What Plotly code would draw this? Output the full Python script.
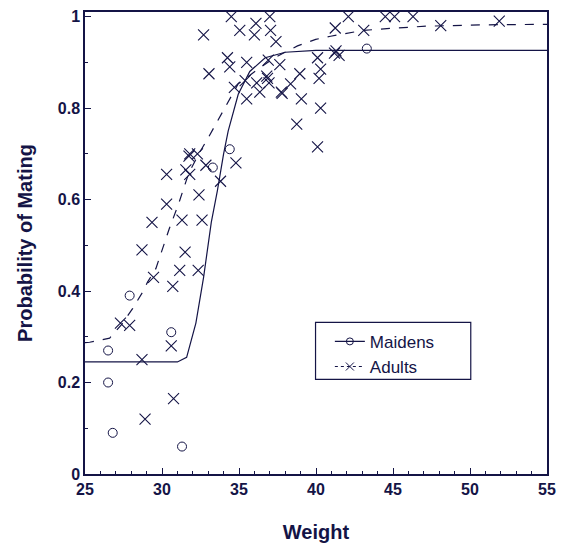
import plotly.graph_objects as go

# Maidens observations
maiden_w = [26.5, 26.5, 26.8, 27.9, 30.6, 31.3, 33.3, 34.4, 43.3]
maiden_p = [0.27, 0.20, 0.09, 0.39, 0.31, 0.06, 0.67, 0.71, 0.93]

# Adults observations
adult_w = [27.3, 27.9, 28.7, 28.9, 30.6, 30.75, 28.7, 29.45, 30.7, 31.15,
           31.5, 32.35, 29.35, 30.3, 31.3, 32.6, 32.4, 30.3, 31.55, 31.8,
           31.75, 31.8, 32.3, 32.85, 33.8, 34.8, 32.7, 33.05, 34.25, 34.4,
           34.5, 34.7, 35.05, 35.5, 35.4, 35.5, 36.0, 36.1, 36.15, 36.35,
           36.8, 36.85, 36.9, 37.0, 37.05, 36.95, 37.4, 37.65, 37.75, 37.8,
           38.35, 38.75, 38.95, 39.05, 40.1, 40.3, 40.2, 40.3, 40.1, 41.25,
           41.3, 41.2, 41.5, 42.1, 43.1, 44.5, 45.1, 46.3, 48.1, 51.9]
adult_p = [0.33, 0.325, 0.25, 0.12, 0.28, 0.165, 0.49, 0.43, 0.41, 0.445,
           0.485, 0.445, 0.55, 0.59, 0.555, 0.555, 0.61, 0.655, 0.665, 0.655,
           0.695, 0.70, 0.70, 0.675, 0.64, 0.68, 0.96, 0.875, 0.91, 0.89,
           1.0, 0.845, 0.97, 0.90, 0.86, 0.82, 0.96, 0.985, 0.855, 0.835,
           0.87, 0.865, 0.905, 1.0, 0.97, 0.855, 0.945, 0.895, 0.835, 0.832,
           0.853, 0.765, 0.875, 0.82, 0.91, 0.885, 0.865, 0.80, 0.715, 0.975,
           0.925, 0.92, 0.915, 1.0, 0.97, 1.0, 1.0, 1.0, 0.98, 0.99]

# Fitted curves
maiden_fit_w = [25.0, 31.0, 31.6, 32.2, 32.7, 33.2, 33.6, 34.0, 34.3, 34.95,
                35.7, 36.7, 38.0, 40.0, 55.0]
maiden_fit_p = [0.245, 0.245, 0.255, 0.33, 0.43, 0.55, 0.62, 0.70, 0.75, 0.83,
                0.88, 0.91, 0.922, 0.926, 0.926]

adult_fit_w = [25.0, 25.3, 26.6, 27.36, 28.1, 28.75, 29.07, 29.6, 30.46, 31.1,
               31.74, 32.39, 33.0, 33.88, 34.95, 36.24, 37.3, 38.8, 39.98, 40.95,
               43.1, 45.23, 47.16, 51.0, 55.0]
adult_fit_p = [0.287, 0.288, 0.297, 0.326, 0.362, 0.398, 0.42, 0.449, 0.535, 0.593,
               0.658, 0.70, 0.735, 0.788, 0.853, 0.885, 0.91, 0.936, 0.95, 0.957,
               0.97, 0.975, 0.979, 0.982, 0.983]

C = "#141446"
FONT = "Liberation Sans"

fig = go.Figure()
fig.add_trace(go.Scatter(x=maiden_fit_w, y=maiden_fit_p, mode="lines",
                         line=dict(color=C, width=1.2), showlegend=False))
fig.add_trace(go.Scatter(x=adult_fit_w, y=adult_fit_p, mode="lines",
                         line=dict(color=C, width=1.2, dash="dash"), showlegend=False))
fig.add_trace(go.Scatter(x=maiden_w, y=maiden_p, mode="markers",
                         marker=dict(symbol="circle-open", size=9, color=C,
                                     line=dict(width=1, color=C)),
                         showlegend=False))
fig.add_trace(go.Scatter(x=adult_w, y=adult_p, mode="markers",
                         marker=dict(symbol="x-thin-open", size=11, color=C,
                                     line=dict(width=1.1, color=C)),
                         showlegend=False))
# legend entries
fig.add_trace(go.Scatter(x=[None], y=[None], mode="lines+markers", name="Maidens",
                         line=dict(color=C, width=1.2),
                         marker=dict(symbol="circle-open", size=7, color=C)))
fig.add_trace(go.Scatter(x=[None], y=[None], mode="lines+markers", name="Adults",
                         line=dict(color=C, width=1.2, dash="dot"),
                         marker=dict(symbol="x-thin-open", size=8, color=C,
                                     line=dict(width=1, color=C))))

axis_common = dict(showline=True, linecolor=C, linewidth=1.5, mirror=True,
                   ticks="inside", ticklen=6, tickwidth=1.2, tickcolor=C,
                   showgrid=False, zeroline=False,
                   tickfont=dict(family=FONT, size=16, color=C, weight="bold"))

fig.update_xaxes(range=[25, 55], tick0=25, dtick=5,
                 minor=dict(ticks="inside", ticklen=3, tickcolor=C, dtick=1, tick0=25),
                 title=dict(text="Weight", font=dict(family=FONT, size=20, color=C, weight="bold"),
                            standoff=28),
                 **axis_common)
fig.update_yaxes(range=[0, 1.01], tick0=0, dtick=0.2,
                 minor=dict(ticks="inside", ticklen=3, tickcolor=C, dtick=0.1, tick0=0),
                 title=dict(text="Probability of Mating",
                            font=dict(family=FONT, size=20, color=C, weight="bold"),
                            standoff=20),
                 **axis_common)

fig.add_shape(type="rect", xref="paper", yref="paper",
              x0=0.499, x1=0.835, y0=0.205, y1=0.328,
              line=dict(color=C, width=1.2), fillcolor="rgba(0,0,0,0)")

fig.update_layout(
    width=564, height=548,
    margin=dict(l=85, r=12, t=8, b=74),
    plot_bgcolor="white", paper_bgcolor="white",
    legend=dict(x=0.53, y=0.325, xanchor="left", yanchor="top",
                bgcolor="rgba(0,0,0,0)", borderwidth=0,
                font=dict(family=FONT, size=17, color=C),
                itemwidth=30, tracegroupgap=0),
)

fig.write_html("out.html")
